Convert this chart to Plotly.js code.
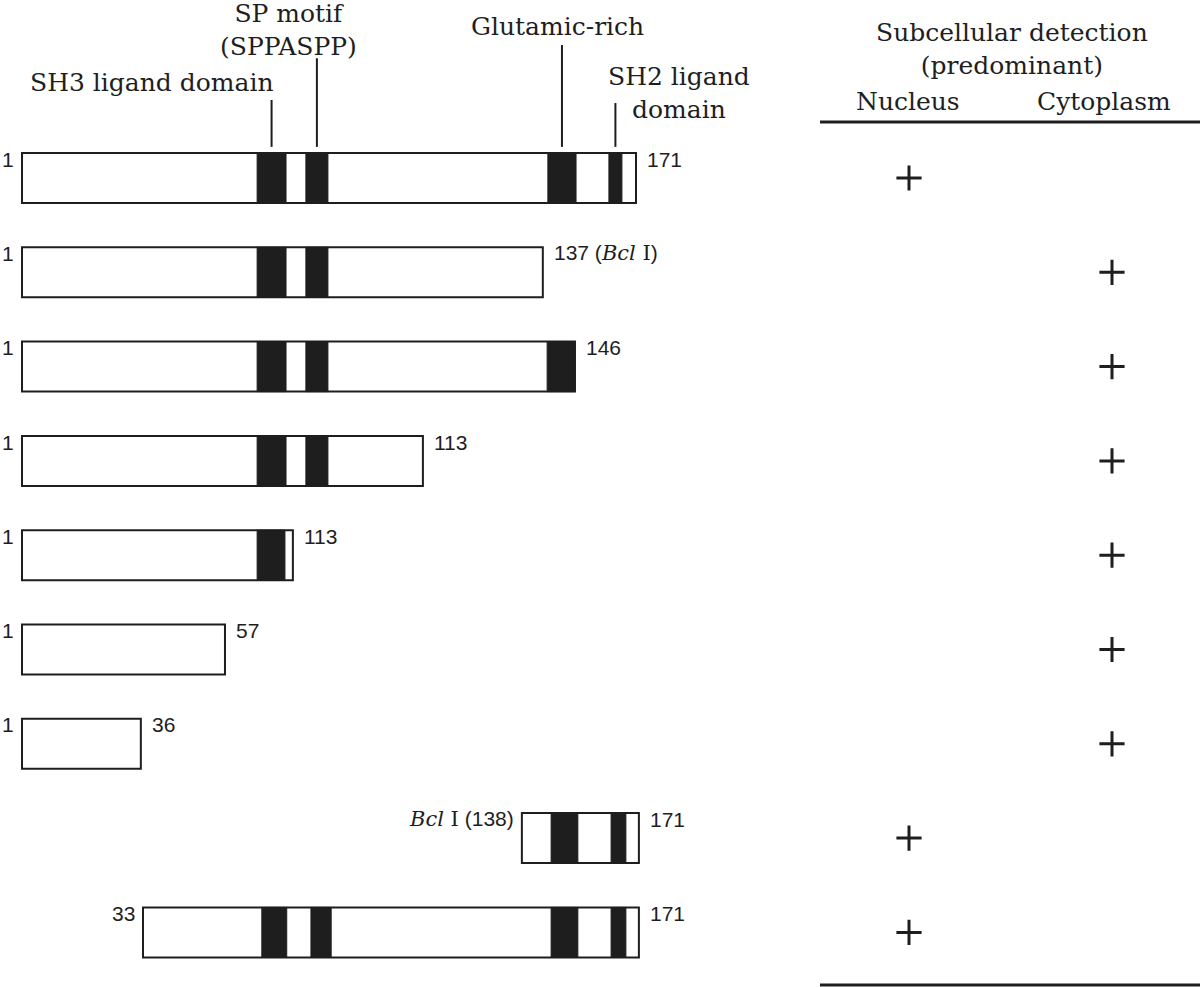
<!DOCTYPE html>
<html>
<head>
<meta charset="utf-8">
<script src="https://cdn.plot.ly/plotly-3.0.1.min.js"></script>
<style>html,body{margin:0;padding:0;background:#fff;}#chart{width:1200px;height:987px;}</style>
</head>
<body>
<div id="chart"></div>
<script>
// ---- data (residue-scale schematic units) ----
const rows = [1, 2, 3, 4, 5, 6, 7, 8, 9];
const BCL = '<span style="font-family:DejaVu Serif"><i>Bcl</i> I</span>';
const startLabels = ['1', '1', '1', '1', '1', '1', '1', BCL + ' (138)', '33'];
const endLabels = ['171', '137 (' + BCL + ')', '146', '113', '113', '57', '36', '171', '171'];
const drawnStart = [1, 1, 1, 1, 1, 1, 1, 139.4, 34.5];
const drawnEnd = [171, 145.2, 154.1, 112.0, 76.0, 57.2, 33.9, 171.8, 171.8];

const blockRow   = [1, 1, 1, 1,   2, 2,   3, 3, 3,   4, 4,   5,   8, 8,   9, 9, 9, 9];
const blockStart = [66.1, 79.6, 146.6, 163.5,  66.1, 79.6,  66.1, 79.6, 146.4,  66.1, 79.6,  66.1,  147.5, 164.1,  67.4, 81.0, 147.5, 164.1];
const blockEnd   = [74.1, 85.7, 154.4, 167.1,  74.1, 85.7,  74.1, 85.7, 154.1,  74.1, 85.7,  73.8,  154.9, 168.2,  74.3, 86.6, 154.9, 168.2];

const domainNames = ['SH3 ligand domain', 'SP motif<br>(SPPASPP)', 'Glutamic-rich', 'SH2 ligand<br>domain'];
const domainBlockIndex = [0, 1, 2, 3]; // blocks of the full-length construct

const locColumns = ['Nucleus', 'Cytoplasm'];
const localization = ['Nucleus', 'Cytoplasm', 'Cytoplasm', 'Cytoplasm', 'Cytoplasm', 'Cytoplasm', 'Cytoplasm', 'Nucleus', 'Nucleus'];

// ---- layout helpers ----
const W = 1200, H = 987;
const INK = '#1e1e1e';
const serif = "'DejaVu Serif', serif";
const sans = "'Liberation Sans', Arial, sans-serif";
const px = v => v / W;
const py = v => 1 - v / H;

const traces = [];
traces.push({
  type: 'bar', orientation: 'h', y: rows,
  base: drawnStart, x: drawnStart.map((s, i) => drawnEnd[i] - s),
  width: 0.53, marker: {color: '#ffffff', line: {color: INK, width: 2}},
  hoverinfo: 'skip', showlegend: false
});
traces.push({
  type: 'bar', orientation: 'h', y: blockRow,
  base: blockStart, x: blockStart.map((s, i) => blockEnd[i] - s),
  width: 0.53, marker: {color: INK, line: {color: INK, width: 1}},
  hoverinfo: 'skip', showlegend: false
});
traces.push({
  type: 'scatter', mode: 'markers', xaxis: 'x2', yaxis: 'y',
  x: localization, y: rows,
  marker: {symbol: 'cross-thin', size: 18, line: {color: INK, width: 3}, color: INK},
  hoverinfo: 'skip', showlegend: false
});

const annotations = [];
rows.forEach((r, i) => {
  annotations.push({x: drawnStart[i], y: r - 0.2, xref: 'x', yref: 'y', text: startLabels[i],
    showarrow: false, xanchor: 'right', yanchor: 'middle', xshift: -6,
    font: {family: sans, size: 21, color: INK}});
  annotations.push({x: drawnEnd[i], y: r - 0.2, xref: 'x', yref: 'y', text: endLabels[i],
    showarrow: false, xanchor: 'left', yanchor: 'middle', xshift: 9,
    font: {family: sans, size: 21, color: INK}});
});

const labelPos = [[152, 82], [288, 30], [557, 27], [679, 93]];
const lineTop = [0.173, -0.27, -0.410, 0.205];
const shapes = [];
domainNames.forEach((d, j) => {
  const b = domainBlockIndex[j];
  const cx = (blockStart[b] + blockEnd[b]) / 2;
  shapes.push({type: 'line', xref: 'x', yref: 'y', x0: cx, x1: cx, y0: lineTop[j], y1: 0.67,
    line: {color: INK, width: 2}});
  annotations.push({x: px(labelPos[j][0]), y: py(labelPos[j][1]), xref: 'paper', yref: 'paper',
    text: d, showarrow: false, xanchor: 'center', yanchor: 'middle', align: 'center',
    font: {family: serif, size: 25, color: INK}});
});

annotations.push({x: px(1012), y: py(49), xref: 'paper', yref: 'paper',
  text: 'Subcellular detection<br>(predominant)', showarrow: false, xanchor: 'center', yanchor: 'middle',
  align: 'center', font: {family: serif, size: 25, color: INK}});
annotations.push({x: px(908), y: py(102), xref: 'paper', yref: 'paper', text: locColumns[0],
  showarrow: false, xanchor: 'center', yanchor: 'middle', font: {family: serif, size: 25, color: INK}});
annotations.push({x: px(1104), y: py(102), xref: 'paper', yref: 'paper', text: locColumns[1],
  showarrow: false, xanchor: 'center', yanchor: 'middle', font: {family: serif, size: 25, color: INK}});

shapes.push({type: 'line', xref: 'paper', yref: 'paper', x0: px(820), x1: 1, y0: py(122), y1: py(122),
  line: {color: INK, width: 3}});
shapes.push({type: 'line', xref: 'paper', yref: 'paper', x0: px(820), x1: 1, y0: py(985), y1: py(985),
  line: {color: INK, width: 3}});

const k = 614 / 170;
const layout = {
  width: W, height: H, margin: {l: 0, r: 0, t: 0, b: 0, pad: 0},
  paper_bgcolor: '#ffffff', plot_bgcolor: '#ffffff',
  barmode: 'overlay', showlegend: false,
  xaxis: {range: [1 - 22 / k, 1 + 1178 / k], visible: false, fixedrange: true},
  xaxis2: {type: 'category', categoryarray: locColumns, overlaying: 'x', anchor: 'y',
    range: [-909 / 203, -909 / 203 + 1200 / 203], visible: false, fixedrange: true},
  yaxis: {range: [1 + 809 / 94.3, 1 - 178 / 94.3], visible: false, fixedrange: true},
  annotations: annotations, shapes: shapes
};

Plotly.newPlot('chart', traces, layout, {staticPlot: true, displayModeBar: false});
</script>
</body>
</html>
